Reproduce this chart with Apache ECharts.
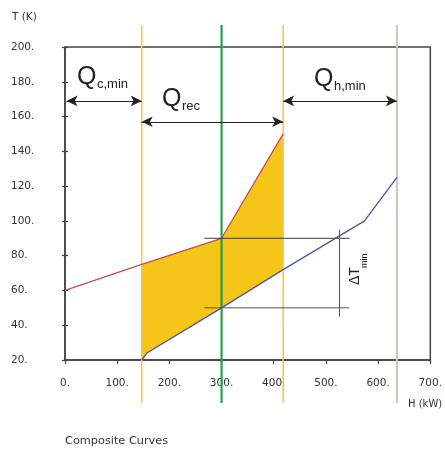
<!DOCTYPE html>
<html>
<head>
<meta charset="utf-8">
<script src="https://cdn.jsdelivr.net/npm/echarts@6/dist/echarts.min.js"></script>
<style>html,body{margin:0;padding:0;background:#fff}#c{width:445px;height:450px}</style>
</head>
<body>
<div id="c"></div>
<script>
// ---- data ----
var hotH = [0, 147, 300, 418];
var hotT = [60, 75, 90, 150];
var coldH = [147, 157, 300, 418, 574, 636];
var coldT = [20, 24, 50, 72, 100, 125];
var vlineH = [147, 300, 418, 636];
var vlineColors = ['#F2C95A', '#2A9F48', '#F2C95A', '#CFC8BA'];
var xTicks = [0, 100, 200, 300, 400, 500, 600, 700];
var yTicks = [20, 40, 60, 80, 100, 120, 140, 160, 180, 200];
var dTHot = 90, dTCold = 50, dTH = 526, dTFrom = 267, dTTo = 545;
var arrowQc = [3, 147, 169];
var arrowQrec = [147, 418, 157];
var arrowQh = [418, 636, 169];

var FONT = 'DejaVu Sans';
var chart = echarts.init(document.getElementById('c'), null, {renderer: 'canvas'});

function pairs(xs, ys) { return xs.map(function (x, i) { return [x, ys[i]]; }); }

var fillPts = [];
for (var i = 1; i < hotH.length; i++) fillPts.push([hotH[i], hotT[i]]);
for (var j = coldH.length - 1; j >= 0; j--) if (coldH[j] <= 418) fillPts.push([coldH[j], coldT[j]]);

function arrowLine(a) {
  return [{coord: [a[0], a[2]]}, {coord: [a[1], a[2]]}];
}

var option = {
  animation: false,
  grid: {left: 65, right: 13, top: 47, bottom: 90, show: true, borderColor: '#444', borderWidth: 1.5, backgroundColor: 'transparent'},
  xAxis: [{
    type: 'value', min: 0, max: 700, interval: 100,
    axisLine: {show: true, onZero: false, lineStyle: {color: '#444', width: 1.5}},
    axisTick: {show: true, length: 4, lineStyle: {color: '#444', width: 1.2}},
    splitLine: {show: false},
    axisLabel: {margin: 18, color: '#333', fontFamily: FONT, fontSize: 10.5, formatter: function (v) { return v + '.'; }}
  }],
  yAxis: [{
    type: 'value', min: 20, max: 200, interval: 20,
    axisLine: {show: true, onZero: false, lineStyle: {color: '#444', width: 1.5}},
    axisTick: {show: true, length: 3, lineStyle: {color: '#444', width: 1.2}},
    splitLine: {show: false},
    axisLabel: {align: 'left', margin: 54, color: '#333', fontFamily: FONT, fontSize: 10.5, formatter: function (v) { return v + '.'; }}
  }, {
    type: 'value', min: 20, max: 200, interval: 20, position: 'left', offset: 0,
    axisLine: {show: false, onZero: false},
    axisTick: {show: true, inside: true, length: 3, lineStyle: {color: '#444', width: 1.2}},
    axisLabel: {show: false}, splitLine: {show: false}
  }],
  series: [
    {
      type: 'custom', coordinateSystem: 'cartesian2d', z: 1, silent: true,
      data: [0],
      renderItem: function (params, api) {
        return {
          type: 'polygon',
          shape: {points: fillPts.map(function (p) { return api.coord(p); })},
          style: {fill: '#F5C518', stroke: null}
        };
      }
    },
    {
      type: 'custom', coordinateSystem: 'cartesian2d', z: 3, silent: true, clip: false,
      data: vlineH.map(function (h, i) { return [h, i]; }),
      renderItem: function (params, api) {
        var h = api.value(0), k = api.value(1);
        var p1 = api.coord([h, 212.6]);
        var p2 = api.coord([h, -4.8]);
        return {
          type: 'line',
          shape: {x1: p1[0], y1: p1[1], x2: p2[0], y2: p2[1]},
          style: {stroke: vlineColors[k], lineWidth: k === 1 ? 2.2 : (k === 3 ? 2 : 1.6)}
        };
      }
    },
    {
      type: 'line', data: pairs(hotH, hotT), symbol: 'none', z: 4,
      lineStyle: {color: '#C0504D', width: 1.3}
    },
    {
      type: 'line', data: pairs(coldH, coldT), symbol: 'none', z: 4,
      lineStyle: {color: '#4A55A8', width: 1.3}
    },
    {
      type: 'line', data: [[dTFrom, dTHot], [dTTo, dTHot]], symbol: 'none', z: 5,
      lineStyle: {color: '#3a3a3a', width: 1}
    },
    {
      type: 'line', data: [[dTFrom, dTCold], [dTTo, dTCold]], symbol: 'none', z: 5,
      lineStyle: {color: '#555', width: 1}
    },
    {
      type: 'line', yAxisIndex: 1, data: [[dTH, dTCold - 5], [dTH, dTHot + 5]], symbol: 'none', z: 5,
      lineStyle: {color: '#555', width: 1}
    },
    {
      type: 'line', data: [], z: 6,
      markLine: {
        silent: true, symbol: ['arrow', 'arrow'], symbolSize: [8, 11],
        label: {show: false},
        lineStyle: {color: '#222', width: 1, type: 'solid'},
        data: [arrowLine(arrowQc), arrowLine(arrowQrec), arrowLine(arrowQh)]
      }
    }
  ],
  graphic: [
    {type: 'text', left: 12, top: 12, style: {text: 'T (K)', fill: '#333', font: '10.5px "DejaVu Sans"'}},
    {type: 'text', left: 408, top: 399, style: {text: 'H (kW)', fill: '#333', font: '10px "DejaVu Sans"'}},
    {type: 'text', left: 65, top: 436, style: {text: 'Composite Curves', fill: '#333', font: '11.3px "DejaVu Sans"'}},
    {type: 'text', left: 77, top: 65, style: {text: 'Q', fill: '#222', font: '25px "Liberation Sans"'}},
    {type: 'text', left: 97, top: 78, style: {text: 'c,min', fill: '#222', font: '13px "Liberation Sans"'}},
    {type: 'text', left: 162, top: 87, style: {text: 'Q', fill: '#222', font: '25px "Liberation Sans"'}},
    {type: 'text', left: 182, top: 100, style: {text: 'rec', fill: '#222', font: '13px "Liberation Sans"'}},
    {type: 'text', left: 314, top: 67, style: {text: 'Q', fill: '#222', font: '25px "Liberation Sans"'}},
    {type: 'text', left: 334, top: 80, style: {text: 'h,min', fill: '#222', font: '13px "Liberation Sans"'}},
    {type: 'text', x: 348, y: 285, rotation: Math.PI / 2, style: {text: 'ΔT', fill: '#222', font: '14px "Liberation Sans"'}},
    {type: 'text', x: 360, y: 268, rotation: Math.PI / 2, style: {text: 'min', fill: '#222', font: '9px "Liberation Sans"'}}
  ]
};
chart.setOption(option);
</script>
</body>
</html>
